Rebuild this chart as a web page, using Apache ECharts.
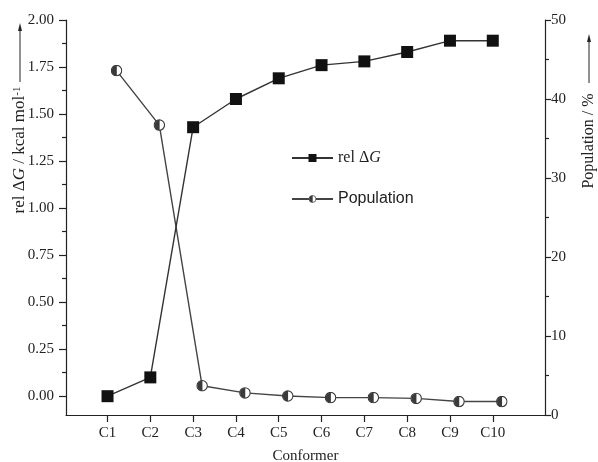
<!DOCTYPE html>
<html>
<head>
<meta charset="utf-8">
<script src="https://cdn.jsdelivr.net/npm/echarts@6/dist/echarts.min.js"></script>
<style>
  html, body { margin: 0; padding: 0; background: #fff; }
  #chart { width: 598px; height: 462px; }
</style>
</head>
<body>
<div id="chart"></div>
<script>
// Conformer energies (kcal/mol, relative) and Boltzmann populations (%)
const conformers = ['C1', 'C2', 'C3', 'C4', 'C5', 'C6', 'C7', 'C8', 'C9', 'C10'];
const relDeltaG = [0.00, 0.10, 1.43, 1.58, 1.69, 1.76, 1.78, 1.83, 1.89, 1.89];
const population = [43.6, 36.7, 3.7, 2.8, 2.4, 2.2, 2.2, 2.1, 1.7, 1.7];

// Tick values
const conformerTicks = [1, 2, 3, 4, 5, 6, 7, 8, 9, 10];
const energyTicks = [0, 0.25, 0.5, 0.75, 1.0, 1.25, 1.5, 1.75, 2.0];
const energyMinorTicks = [0.125, 0.375, 0.625, 0.875, 1.125, 1.375, 1.625, 1.875];
const populationTicks = [0, 10, 20, 30, 40, 50];

const SERIF = '"Liberation Serif", "DejaVu Serif", serif';
const SANS = '"Liberation Sans", Arial, sans-serif';
const INK = '#222';

// half-filled circle marker (left half dark, right half white)
const halfCircleSvg =
  '<svg xmlns="http://www.w3.org/2000/svg" width="24" height="24" viewBox="0 0 24 24">' +
  '<circle cx="12" cy="12" r="10.4" fill="#fff" stroke="#3a3a3a" stroke-width="2.2"/>' +
  '<path d="M12.6 1.6 A10.4 10.4 0 0 0 12.6 22.4 Z" fill="#3a3a3a"/></svg>';
const halfCircleSymbol = 'image://data:image/svg+xml;charset=utf-8,' + encodeURIComponent(halfCircleSvg);

const chart = echarts.init(document.getElementById('chart'), null, { renderer: 'canvas' });

const xRange = { min: 0.03, max: 11.22 };

chart.setOption({
  animation: false,
  backgroundColor: '#fff',
  grid: [
    { left: 66, right: 53, top: 20, bottom: 47, outerBoundsMode: 'none' },
    // population markers sit slightly right of the category ticks
    { left: 75, right: 44, top: 20, bottom: 47, outerBoundsMode: 'none' }
  ],
  xAxis: [
    {
      type: 'value', gridIndex: 0, min: xRange.min, max: xRange.max,
      axisLine: { show: true, onZero: false, lineStyle: { color: INK, width: 1.2 } },
      axisTick: { show: true, customValues: conformerTicks, length: 7, lineStyle: { color: INK, width: 1.2 } },
      axisLabel: {
        customValues: conformerTicks,
        formatter: v => conformers[Math.round(v) - 1],
        fontFamily: SERIF, fontSize: 15, color: INK, margin: 11
      },
      splitLine: { show: false },
      name: 'Conformer', nameLocation: 'middle', nameGap: 34,
      nameTextStyle: { fontFamily: SERIF, fontSize: 15, color: INK }
    },
    { type: 'value', gridIndex: 1, min: xRange.min, max: xRange.max, show: false }
  ],
  yAxis: [
    {
      type: 'value', gridIndex: 0, position: 'left', min: -0.1, max: 2.0,
      axisLine: { show: true, onZero: false, lineStyle: { color: INK, width: 1.2 } },
      axisTick: { show: true, customValues: energyTicks, length: 7, lineStyle: { color: INK, width: 1.2 } },
      axisLabel: {
        customValues: energyTicks, formatter: v => v.toFixed(2),
        fontFamily: SERIF, fontSize: 15, color: INK, margin: 12
      },
      splitLine: { show: false }
    },
    {
      type: 'value', gridIndex: 0, position: 'left', min: -0.1, max: 2.0,
      axisLine: { show: false },
      axisTick: { show: true, customValues: energyMinorTicks, length: 4, lineStyle: { color: INK, width: 1.2 } },
      axisLabel: { show: false },
      splitLine: { show: false }
    },
    {
      type: 'value', gridIndex: 0, position: 'right', min: 0, max: 50, interval: 10,
      axisLine: { show: true, onZero: false, lineStyle: { color: INK, width: 1.2 } },
      axisTick: { show: true, length: 6, lineStyle: { color: INK, width: 1.2 } },
      minorTick: { show: true, splitNumber: 2, length: 4, lineStyle: { color: INK, width: 1.2 } },
      axisLabel: { fontFamily: SERIF, fontSize: 15, color: INK, margin: 6 },
      splitLine: { show: false }, minorSplitLine: { show: false }
    },
    { type: 'value', gridIndex: 1, position: 'right', min: 0, max: 50, show: false }
  ],
  legend: {
    orient: 'vertical', left: 291, top: 150, padding: 0,
    itemWidth: 41, itemHeight: 10, itemGap: 25,
    data: ['rel ΔG', 'Population'],
    formatter: name => name === 'rel ΔG' ? '{s|rel Δ}{i|G}' : '{p|Population}',
    textStyle: {
      color: INK,
      rich: {
        s: { fontFamily: SERIF, fontSize: 16, color: INK },
        i: { fontFamily: SERIF, fontSize: 16, fontStyle: 'italic', color: INK },
        p: { fontFamily: SANS, fontSize: 16, color: INK }
      }
    }
  },
  series: [
    {
      name: 'rel ΔG', type: 'line', xAxisIndex: 0, yAxisIndex: 0,
      data: relDeltaG.map((v, i) => [conformerTicks[i], v]),
      symbol: 'rect', symbolSize: 12,
      itemStyle: { color: '#111' },
      lineStyle: { color: '#333', width: 1.4 },
      z: 3
    },
    {
      name: 'Population', type: 'line', xAxisIndex: 1, yAxisIndex: 3,
      data: population.map((v, i) => [conformerTicks[i], v]),
      symbol: halfCircleSymbol, symbolSize: 12,
      itemStyle: { color: '#3a3a3a' },
      lineStyle: { color: '#444', width: 1.4 },
      z: 2
    }
  ],
  graphic: [
    {
      type: 'text', x: 20, y: 150, rotation: Math.PI / 2,
      style: {
        text: '{n|rel Δ}{i|G}{n| / kcal mol}{s|-1}',
        align: 'center', verticalAlign: 'middle',
        rich: {
          n: { fontFamily: SERIF, fontSize: 17, fill: INK },
          i: { fontFamily: SERIF, fontSize: 17, fontStyle: 'italic', fill: INK },
          s: { fontFamily: SERIF, fontSize: 11, fill: INK, verticalAlign: 'top' }
        }
      }
    },
    { type: 'line', shape: { x1: 20, y1: 82, x2: 20, y2: 29 }, style: { stroke: INK, lineWidth: 1 } },
    { type: 'polygon', shape: { points: [[20, 23], [18, 31], [22, 31]] }, style: { fill: INK } },
    {
      type: 'text', x: 589, y: 141, rotation: Math.PI / 2,
      style: {
        text: 'Population / %', align: 'center', verticalAlign: 'middle',
        fontFamily: SERIF, fontSize: 16, fill: INK
      }
    },
    { type: 'line', shape: { x1: 589, y1: 83, x2: 589, y2: 40 }, style: { stroke: INK, lineWidth: 1 } },
    { type: 'polygon', shape: { points: [[589, 34], [587, 42], [591, 42]] }, style: { fill: INK } }
  ]
});
</script>
</body>
</html>
